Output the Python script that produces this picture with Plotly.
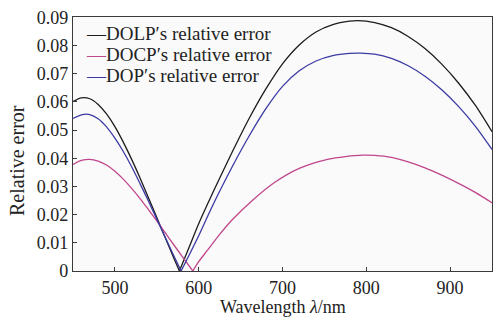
import plotly.graph_objects as go

# ---- data ----
DOLP_WL = [450, 460, 470, 480, 490, 500, 510, 520, 530, 540, 550, 560, 570, 577, 590, 600, 620, 640, 660, 680,
           700, 720, 740, 760, 780, 790, 810, 830, 850, 870, 890, 910, 930, 950]
DOLP = [0.0601, 0.0614, 0.0611, 0.0591, 0.0557, 0.0512, 0.0457, 0.0396, 0.0330, 0.0260, 0.0190, 0.0119, 0.0048,
        0.0, 0.0095, 0.0168, 0.0298, 0.0422, 0.0540, 0.0645, 0.0735, 0.0802, 0.0848, 0.0874, 0.0886, 0.0888,
        0.0881, 0.0863, 0.0832, 0.0789, 0.0734, 0.0667, 0.0588, 0.0494]

DOP_WL = [450, 460, 470, 480, 490, 500, 510, 520, 530, 540, 550, 560, 570, 579, 590, 600, 610, 622, 640, 660,
          680, 700, 720, 740, 760, 780, 793, 810, 830, 850, 870, 890, 910, 930, 950]
DOP = [0.0541, 0.0554, 0.0555, 0.0540, 0.0511, 0.0471, 0.0424, 0.0370, 0.0310, 0.0248, 0.0184, 0.0120, 0.0056,
       0.0, 0.0065, 0.0125, 0.0190, 0.0265, 0.0370, 0.0478, 0.0575, 0.0655, 0.0710, 0.0745, 0.0764, 0.0772,
       0.0773, 0.0769, 0.0754, 0.0728, 0.0691, 0.0643, 0.0584, 0.0514, 0.0431]

DOCP_WL = [450, 460, 470, 480, 490, 500, 510, 520, 530, 540, 550, 560, 570, 580, 593, 600, 610, 625, 640, 665,
           690, 720, 755, 775, 796, 810, 830, 850, 870, 890, 910, 930, 950]
DOCP = [0.0378, 0.0392, 0.0396, 0.0390, 0.0376, 0.0354, 0.0326, 0.0293, 0.0257, 0.0218, 0.0178, 0.0136, 0.0094,
        0.0053, 0.0, 0.0033, 0.0072, 0.0130, 0.0182, 0.0253, 0.0313, 0.0364, 0.0397, 0.0406, 0.0411, 0.0410,
        0.0403, 0.0387, 0.0366, 0.0340, 0.0311, 0.0279, 0.0242]

SERIES_NAMES = ["DOLP\u2032s relative error", "DOCP\u2032s relative error", "DOP\u2032s relative error"]
X_TICKS = [500, 600, 700, 800, 900]
Y_TICKS = [0, 0.01, 0.02, 0.03, 0.04, 0.05, 0.06, 0.07, 0.08, 0.09]
Y_TICK_TEXT = ["0", "0.01", "0.02", "0.03", "0.04", "0.05", "0.06", "0.07", "0.08", "0.09"]

COLORS = ["#1c1c1c", "#c0468c", "#3b3aa3"]
FONT = "Liberation Serif, Times New Roman, serif"

fig = go.Figure()
series = [(DOLP_WL, DOLP), (DOCP_WL, DOCP), (DOP_WL, DOP)]
for (wl, vals), name, col in zip(series, SERIES_NAMES, COLORS):
    k = vals.index(min(vals))  # sharp V at the zero: draw each side separately
    for xs, ys in ((wl[:k + 1], vals[:k + 1]), (wl[k:], vals[k:])):
        fig.add_trace(go.Scatter(x=xs, y=ys, mode="lines", name=name, showlegend=False,
                                 line=dict(color=col, width=1.3, shape="spline", smoothing=0.8)))

# legend drawn as text lines (short line sample + label)
for i, (name, col) in enumerate(zip(SERIES_NAMES, COLORS)):
    fig.add_annotation(xref="paper", yref="paper", x=0.026, y=0.984 - i * 0.083,
                       xanchor="left", yanchor="top", showarrow=False,
                       text=f"<span style='color:{col}'>\u2014</span>{name}",
                       font=dict(family=FONT, size=19, color="#222"))

# axis titles
fig.add_annotation(xref="paper", yref="paper", x=0.501, y=-0.185, xanchor="center", yanchor="bottom",
                   showarrow=False, borderpad=0, text="Wavelength <i>\u03bb</i>/nm",
                   font=dict(family=FONT, size=18, color="#222"))
fig.add_annotation(xref="paper", yref="paper", x=0, xshift=-56, y=0.433, xanchor="center", yanchor="middle",
                   showarrow=False, text="Relative error", textangle=-90,
                   font=dict(family=FONT, size=20, color="#222"))

axis_common = dict(showline=True, linecolor="#3a3a3a", linewidth=1.3, mirror=True, ticks="inside",
                   ticklen=4, tickwidth=1.2, tickcolor="#3a3a3a", showgrid=False, zeroline=False,
                   tickfont=dict(family=FONT, size=18, color="#222"))

fig.update_layout(
    width=493, height=318,
    margin=dict(l=73, r=1, t=17, b=47),
    paper_bgcolor="#ffffff", plot_bgcolor="#fafafa",
    showlegend=False,
    xaxis=dict(range=[450, 950], tickvals=X_TICKS, **axis_common),
    yaxis=dict(range=[0, 0.0901], tickvals=Y_TICKS, ticktext=Y_TICK_TEXT, **axis_common),
)

# remove the browser's default 8px body margin so the figure sits at the page origin
fig.write_html("out.html", config={"displayModeBar": False},
               post_script="document.body.style.margin='0';")
